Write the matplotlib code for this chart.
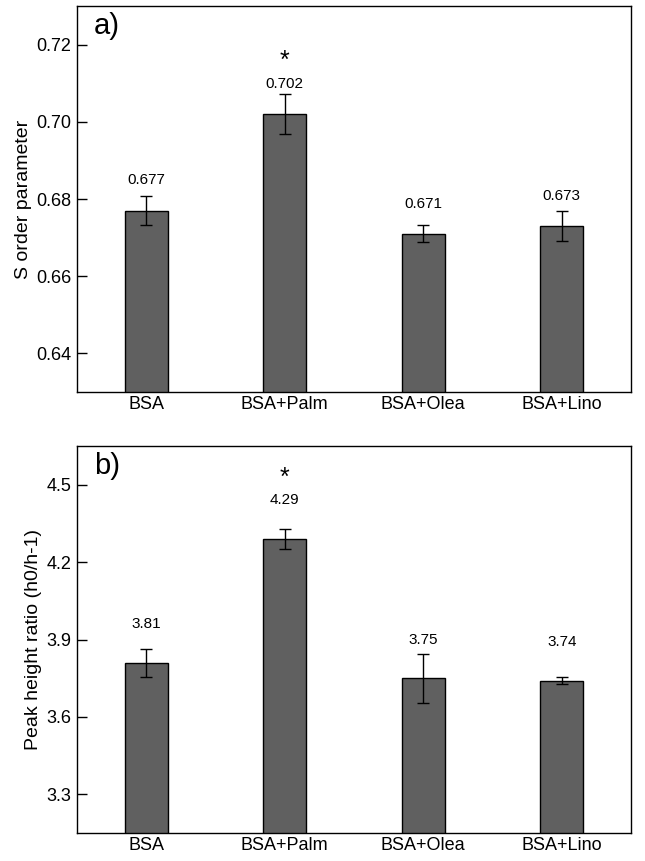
import matplotlib.pyplot as plt
import numpy as np

plt.rcParams['font.family'] = ['Liberation Sans', 'DejaVu Sans']

categories = ['BSA', 'BSA+Palm', 'BSA+Olea', 'BSA+Lino']

# panel a: S order parameter
s_order = [0.677, 0.702, 0.671, 0.673]
s_err = [0.0037, 0.0052, 0.0022, 0.0038]
s_labels = ['0.677', '0.702', '0.671', '0.673']

# panel b: peak height ratio
peak_ratio = [3.81, 4.29, 3.75, 3.74]
peak_err = [0.055, 0.040, 0.095, 0.013]
peak_labels = ['3.81', '4.29', '3.75', '3.74']

star_index = 1  # significant group


def draw_panel(ax, vals, errs, labels, ylim, yticks, ylabel, tag, lab_off, star_off):
    x = np.arange(len(categories))
    ax.bar(x, vals, width=0.31, color='#606060', edgecolor='black', linewidth=1.0, zorder=2)
    ax.errorbar(x, vals, yerr=errs, fmt='none', ecolor='black', elinewidth=1.0,
                capsize=4, capthick=1.0, zorder=3)
    for i in range(len(vals)):
        ax.text(x[i], vals[i] + lab_off, labels[i], ha='center', va='center', fontsize=11)
    ax.text(x[star_index], vals[star_index] + star_off, '*', ha='center', va='center', fontsize=18)
    ax.set_xlim(-0.5, 3.5)
    ax.set_ylim(*ylim)
    ax.set_yticks(yticks)
    ax.set_xticks(x)
    ax.set_xticklabels(categories, fontsize=13)
    ax.tick_params(axis='y', direction='in', length=7, width=1, labelsize=13, pad=4, right=False)
    ax.tick_params(axis='x', direction='in', length=7, width=1, pad=3, top=False)
    ax.set_ylabel(ylabel, fontsize=14, labelpad=3)
    ax.text(0.03, 0.985, tag, transform=ax.transAxes, ha='left', va='top', fontsize=21)
    for sp in ax.spines.values():
        sp.set_linewidth(1.0)


fig = plt.figure(figsize=(6.45, 8.61), dpi=100)
ax1 = fig.add_axes([0.1194, 0.5447, 0.859, 0.4483])
ax2 = fig.add_axes([0.1194, 0.0325, 0.859, 0.4495])

draw_panel(ax1, s_order, s_err, s_labels, (0.63, 0.73),
           [0.64, 0.66, 0.68, 0.70, 0.72], 'S order parameter', 'a)', 0.0078, 0.0137)
ax1.set_yticklabels(['0.64', '0.66', '0.68', '0.70', '0.72'])

draw_panel(ax2, peak_ratio, peak_err, peak_labels, (3.15, 4.65),
           [3.3, 3.6, 3.9, 4.2, 4.5], 'Peak height ratio (h0/h-1)', 'b)', 0.15, 0.235)

fig.savefig('out.png', dpi=100)
